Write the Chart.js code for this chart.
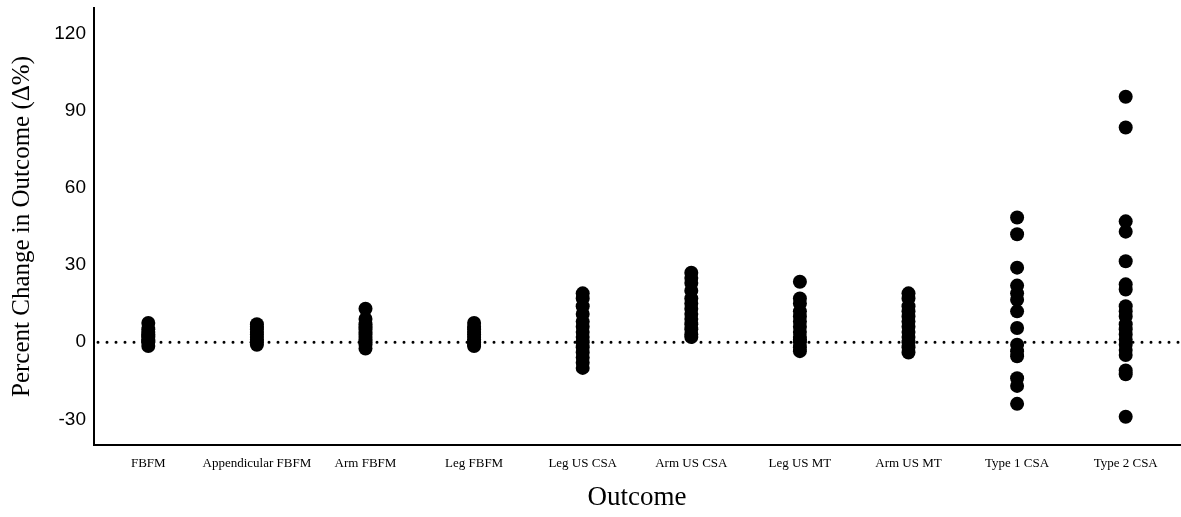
<!DOCTYPE html>
<html>
<head>
<meta charset="utf-8">
<script src="https://cdn.jsdelivr.net/npm/chart.js@4/dist/chart.umd.min.js"></script>
<style>
  body { margin: 0; background: #fff; overflow: hidden; }
  #box { width: 1187px; height: 517px; }
</style>
</head>
<body>
<div id="box"><canvas id="grafico"></canvas></div>
<script>
// Categorias e valores
const categorias = ["FBFM", "Appendicular FBFM", "Arm FBFM", "Leg FBFM", "Leg US CSA",
    "Arm US CSA", "Leg US MT", "Arm US MT", "Type 1 CSA", "Type 2 CSA"];
const fbfm = [7.5, 5, 4, 3, 2.5, 2, 1, 0.5, 0, -1.5];
const appendicularFbfm = [7, 6, 5, 4, 3, 2, 1, 0, -1];
const armFbfm = [13, 9, 7, 6, 5, 4, 3, 2, 1, 0, -1, -2.5];
const legFbfm = [7.5, 6, 5, 4, 3, 2, 1, 0, -1, -1.5];
const legUsCsa = [19, 17, 14, 11, 8, 6, 4, 2, 0, -2, -4, -6, -8, -10];
const armUsCsa = [27, 25, 23, 20, 17, 15, 13, 11, 9, 7, 5, 3, 2];
const legUsMt = [23.5, 17, 15, 12, 10, 8, 6, 4, 2, 1, 0, -2, -3.5];
const armUsMt = [19, 17, 14, 12, 10, 8, 6, 4, 2, 0, -2, -4];
const type1Csa = [48.5, 42, 29, 22, 19, 16.5, 12, 5.5, -1, -3.5, -5.5, -14, -17, -24];
const type2Csa = [95.5, 83.5, 47, 43, 31.5, 22.5, 20.5, 14, 12, 10, 7, 5, 3, 1, -1, -3, -5, -11, -12.5, -29];
const valores = [fbfm, appendicularFbfm, armFbfm, legFbfm, legUsCsa,
    armUsCsa, legUsMt, armUsMt, type1Csa, type2Csa];
const ticksY = [-30, 0, 30, 60, 90, 120];

const pontos = [];
categorias.forEach((cat, i) => {
    valores[i].forEach(v => pontos.push({ x: cat, y: v }));
});

// linha pontilhada no zero
const linhaZero = {
    id: "linhaZero",
    beforeDatasetsDraw(chart) {
        const { ctx, chartArea, scales } = chart;
        const y = scales.y.getPixelForValue(0);
        ctx.save();
        ctx.strokeStyle = "#000";
        ctx.lineWidth = 3;
        ctx.lineCap = "round";
        ctx.setLineDash([0, 9]);
        ctx.beginPath();
        ctx.moveTo(chartArea.left + 4, y);
        ctx.lineTo(chartArea.right, y);
        ctx.stroke();
        ctx.restore();
    }
};

const ctx = document.getElementById("grafico").getContext("2d");
new Chart(ctx, {
    type: "line",
    data: {
        labels: categorias,
        datasets: [{
            data: pontos,
            showLine: false,
            pointRadius: 7,
            pointHoverRadius: 7,
            pointBackgroundColor: "#000",
            pointBorderWidth: 0,
            borderColor: "#000"
        }]
    },
    options: {
        responsive: true,
        maintainAspectRatio: false,
        animation: false,
        layout: { padding: { top: 8, right: 0, left: 0, bottom: 0 } },
        plugins: {
            legend: { display: false },
            tooltip: { enabled: false }
        },
        scales: {
            x: {
                type: "category",
                offset: true,
                grid: { display: false, drawTicks: false },
                border: { display: true, color: "#000", width: 2 },
                ticks: {
                    color: "#000",
                    autoSkip: false,
                    maxRotation: 0,
                    padding: 11,
                    font: { family: "Liberation Serif", size: 13 }
                },
                title: {
                    display: true,
                    text: "Outcome",
                    color: "#000",
                    padding: { top: 6, bottom: 3 },
                    font: { family: "Liberation Serif", size: 27 }
                },
                afterFit(scale) {
                    scale.height = 72;
                    scale.paddingLeft = 0;
                    scale.paddingRight = 0;
                }
            },
            y: {
                min: -40,
                max: 130,
                grid: { display: false, drawTicks: false },
                border: { display: true, color: "#000", width: 2 },
                afterBuildTicks(scale) {
                    scale.ticks = ticksY.map(v => ({ value: v }));
                },
                ticks: {
                    color: "#000",
                    padding: 8,
                    font: { family: "Liberation Sans", size: 19 }
                },
                title: {
                    display: true,
                    text: "Percent Change in Outcome (\u0394%)",
                    color: "#000",
                    padding: { top: 7, bottom: 4 },
                    font: { family: "Liberation Serif", size: 25 }
                },
                afterFit(scale) {
                    scale.width = 94;
                    scale.paddingTop = 0;
                    scale.paddingBottom = 0;
                }
            }
        }
    },
    plugins: [linhaZero]
});
</script>
</body>
</html>
